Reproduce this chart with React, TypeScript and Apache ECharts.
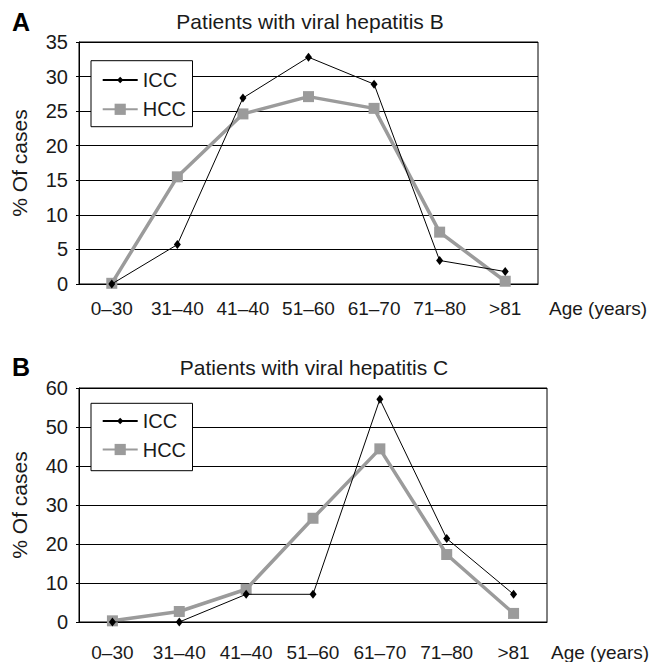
import React, { useEffect, useRef } from "react";
import * as echarts from "echarts";

const categories = ["0–30", "31–40", "41–40", "51–60", "61–70", "71–80", ">81"];
const iccB = [0, 5.7, 26.9, 32.8, 28.9, 3.4, 1.8];
const hccB = [0.1, 15.5, 24.6, 27.1, 25.4, 7.5, 0.4];
const iccC = [0, 0, 7.1, 7.1, 57.1, 21.4, 7.1];
const hccC = [0.3, 2.7, 8.4, 26.6, 44.4, 17.3, 2.2];
const titles = ["Patients with viral hepatitis B", "Patients with viral hepatitis C"];
const panelLetters = ["A", "B"];
const yMax = [35, 60];
const yStep = [5, 10];

const FONT = "'Liberation Sans', Arial, Helvetica, sans-serif";
const TXT = "#1a1a1a";
const GRAY = "#9b9b9b";

export default function App() {
  const ref = useRef<HTMLDivElement>(null);
  useEffect(() => {
    document.body.style.margin = "0";
    const chart = echarts.init(ref.current!, null, { renderer: "svg" });
    const grids = [
      { left: 79, top: 42, width: 459, height: 242, labelMargin: 15, boxTop: 60.7, boxH: 66, iccRow: 80, hccRow: 109.3, titleY: 21.5, nameY: 163, ageY: 308 },
      { left: 79, top: 388, width: 468, height: 234, labelMargin: 21, boxTop: 403.3, boxH: 67.4, iccRow: 421, hccRow: 449.5, titleY: 367, nameY: 505, ageY: 652 },
    ];
    const xAxes = grids.map((g, i) => ({
      type: "category",
      gridIndex: i,
      data: categories,
      boundaryGap: true,
      axisLine: { lineStyle: { color: "#000", width: 1 } },
      axisTick: { inside: true, length: 6, lineStyle: { color: "#000" } },
      axisLabel: { color: TXT, fontSize: 19, fontFamily: FONT, margin: g.labelMargin, interval: 0 },
      splitLine: { show: false },
    }));
    const yAxes = grids.map((g, i) => ({
      type: "value",
      gridIndex: i,
      min: 0,
      max: yMax[i],
      interval: yStep[i],
      axisLine: { show: true, lineStyle: { color: "#000", width: 1 } },
      axisTick: { show: true, length: 3, lineStyle: { color: "#000" } },
      axisLabel: { color: TXT, fontSize: 20, fontFamily: FONT, margin: 11 },
      splitLine: { show: true, lineStyle: { color: "#000", width: 1 } },
    }));
    const seriesData = [
      [hccB, iccB],
      [hccC, iccC],
    ];
    const series: any[] = [];
    seriesData.forEach(([hcc, icc], i) => {
      series.push({
        type: "line",
        name: "HCC",
        xAxisIndex: i,
        yAxisIndex: i,
        data: hcc,
        symbol: "rect",
        symbolSize: 11,
        lineStyle: { color: GRAY, width: 3.5 },
        itemStyle: { color: GRAY },
        z: 2,
      });
      series.push({
        type: "line",
        name: "ICC",
        xAxisIndex: i,
        yAxisIndex: i,
        data: icc,
        symbol: "diamond",
        symbolSize: [7, 9],
        lineStyle: { color: "#000", width: 1 },
        itemStyle: { color: "#000" },
        z: 3,
      });
    });
    const legends: any[] = [];
    grids.forEach((g) => {
      legends.push({
        data: ["ICC"],
        left: 101.7,
        top: g.iccRow - 10,
        padding: 0,
        itemWidth: 35,
        itemHeight: 8,
        selectedMode: false,
        textStyle: { fontSize: 20, fontFamily: FONT, color: TXT, lineHeight: 20 },
      });
      legends.push({
        data: ["HCC"],
        left: 101.7,
        top: g.hccRow - 10,
        padding: 0,
        itemWidth: 35,
        itemHeight: 14,
        selectedMode: false,
        textStyle: { fontSize: 20, fontFamily: FONT, color: TXT, lineHeight: 20 },
      });
    });
    const graphics: any[] = [];
    grids.forEach((g, i) => {
      graphics.push({
        type: "rect",
        z: 3,
        shape: { x: 91, y: g.boxTop, width: 101.5, height: g.boxH },
        style: { fill: "#fff", stroke: "#000", lineWidth: 1 },
      });
      graphics.push({
        type: "text",
        x: 12,
        y: g.titleY,
        style: { text: panelLetters[i], font: `bold 25px ${FONT}`, fill: "#000", verticalAlign: "middle", align: "left" },
      });
      graphics.push({
        type: "text",
        x: i === 0 ? 310 : 314,
        y: g.titleY,
        style: { text: titles[i], font: `21px ${FONT}`, fill: TXT, verticalAlign: "middle", align: "center" },
      });
      graphics.push({
        type: "text",
        x: 19,
        y: g.nameY,
        rotation: Math.PI / 2,
        style: { text: "% Of cases", font: `21px ${FONT}`, fill: TXT, verticalAlign: "middle", align: "center" },
      });
      graphics.push({
        type: "text",
        x: i === 0 ? 549 : 551,
        y: g.ageY,
        style: { text: "Age (years)", font: `19px ${FONT}`, fill: TXT, verticalAlign: "middle", align: "left" },
      });
    });
    chart.setOption({
      animation: false,
      backgroundColor: "#fff",
      grid: grids.map((g) => ({
        left: g.left,
        top: g.top,
        width: g.width,
        height: g.height,
        show: true,
        borderColor: "#000",
        borderWidth: 1,
        backgroundColor: "transparent",
        containLabel: false,
      })),
      xAxis: xAxes,
      yAxis: yAxes,
      legend: legends,
      series,
      graphic: graphics,
    });
    return () => chart.dispose();
  }, []);
  return <div ref={ref} style={{ width: 651, height: 662 }} />;
}
